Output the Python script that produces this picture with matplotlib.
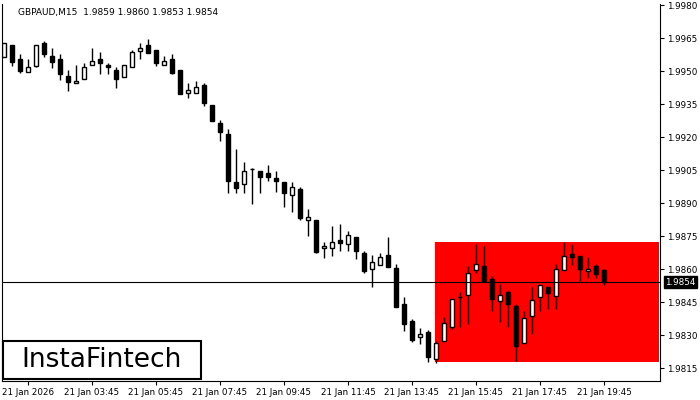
import matplotlib
matplotlib.use("Agg")
import matplotlib.pyplot as plt
import numpy as np
from matplotlib.patches import Rectangle

opens = [1.99564,1.99618,1.99555,1.99495,1.99523,1.99627,1.99568,1.99555,1.99477,1.99445,
         1.99464,1.99527,1.99555,1.99527,1.99505,1.99473,1.99518,1.99591,1.99618,1.99595,
         1.99527,1.99555,1.99505,1.99400,1.99400,1.99436,1.99345,1.99264,1.99214,1.98995,
         1.98986,1.99055,1.99045,1.99036,1.99014,1.98995,1.98936,1.98964,1.98823,1.98823,
         1.98695,1.98695,1.98732,1.98714,1.98745,1.98673,1.98600,1.98618,1.98664,1.98605,
         1.98441,1.98364,1.98291,1.98314,1.98191,1.98273,1.98336,1.98473,1.98482,1.98595,
         1.98614,1.98555,1.98455,1.98495,1.98432,1.98264,1.98386,1.98473,1.98518,1.98477,
         1.98595,1.98668,1.98659,1.98591,1.98614,1.98595]
highs = [1.99627,1.99618,1.99577,1.99555,1.99618,1.99636,1.99605,1.99577,1.99505,1.99527,
         1.99536,1.99605,1.99586,1.99536,1.99518,1.99527,1.99595,1.99627,1.99645,1.99595,
         1.99568,1.99577,1.99505,1.99445,1.99455,1.99445,1.99345,1.99277,1.99236,1.99145,
         1.99086,1.99060,1.99045,1.99073,1.99045,1.98995,1.98995,1.98973,1.98873,1.98823,
         1.98723,1.98795,1.98805,1.98773,1.98745,1.98682,1.98664,1.98673,1.98745,1.98623,
         1.98473,1.98373,1.98332,1.98323,1.98273,1.98382,1.98464,1.98495,1.98614,1.98714,
         1.98705,1.98568,1.98532,1.98500,1.98441,1.98409,1.98518,1.98527,1.98518,1.98623,
         1.98723,1.98714,1.98659,1.98655,1.98623,1.98600]
lows = [1.99564,1.99523,1.99491,1.99495,1.99518,1.99564,1.99514,1.99459,1.99409,1.99445,
        1.99464,1.99527,1.99486,1.99486,1.99423,1.99473,1.99518,1.99555,1.99582,1.99523,
        1.99527,1.99486,1.99395,1.99377,1.99400,1.99341,1.99273,1.99182,1.98945,1.98945,
        1.98945,1.98895,1.98945,1.99000,1.98950,1.98882,1.98859,1.98823,1.98750,1.98673,
        1.98650,1.98659,1.98682,1.98682,1.98645,1.98582,1.98518,1.98618,1.98609,1.98427,
        1.98318,1.98268,1.98259,1.98177,1.98173,1.98273,1.98327,1.98336,1.98350,1.98582,
        1.98545,1.98409,1.98359,1.98336,1.98182,1.98264,1.98305,1.98409,1.98418,1.98418,
        1.98595,1.98618,1.98545,1.98559,1.98559,1.98527]
closes = [1.99627,1.99541,1.99500,1.99518,1.99618,1.99577,1.99541,1.99486,1.99450,1.99455,
          1.99518,1.99545,1.99536,1.99518,1.99464,1.99527,1.99586,1.99605,1.99582,1.99536,
          1.99545,1.99491,1.99395,1.99414,1.99427,1.99355,1.99273,1.99223,1.99000,1.98968,
          1.99045,1.99055,1.99018,1.99018,1.99000,1.98945,1.98973,1.98832,1.98836,1.98677,
          1.98705,1.98723,1.98718,1.98755,1.98682,1.98591,1.98632,1.98655,1.98609,1.98427,
          1.98350,1.98277,1.98305,1.98200,1.98264,1.98355,1.98464,1.98473,1.98582,1.98623,
          1.98545,1.98464,1.98482,1.98441,1.98250,1.98377,1.98459,1.98527,1.98491,1.98600,
          1.98659,1.98655,1.98600,1.98600,1.98577,1.98540]

time_labels = ["21 Jan 2026","21 Jan 03:45","21 Jan 05:45","21 Jan 07:45","21 Jan 09:45",
               "21 Jan 11:45","21 Jan 13:45","21 Jan 15:45","21 Jan 17:45","21 Jan 19:45"]
price_ticks = [1.9980,1.9965,1.9950,1.9935,1.9920,1.9905,1.9890,1.9875,1.9860,1.9845,1.9830,1.9815]
current_price = 1.9854
zone_start, zone_end = 53.9, 81.9
zone_high, zone_low = 1.98723, 1.98177
title = "GBPAUD,M15  1.9859 1.9860 1.9853 1.9854"

fig = plt.figure(figsize=(7, 4), dpi=100)
ax = fig.add_axes([2/700, 1-381/400, 658/700, 377/400])
x = np.arange(len(opens))

ax.add_patch(Rectangle((zone_start, zone_low), zone_end-zone_start, zone_high-zone_low,
                       facecolor="#ff0000", edgecolor="none", zorder=0))
ax.vlines(x, lows, highs, color="black", linewidth=1, zorder=2)
o = np.array(opens); c = np.array(closes)
bottoms = np.minimum(o, c); heights = np.maximum(np.abs(c - o), 0.00002)
colors = ["white" if cc >= oo else "black" for oo, cc in zip(o, c)]
ax.bar(x, heights, bottom=bottoms, width=0.62, color=colors, edgecolor="black",
       linewidth=1, zorder=3)
ax.axhline(current_price, color="black", linewidth=0.8, zorder=4)

ax.set_xlim(-0.25, 82.0)
ax.set_ylim(1.98091, 1.99805)
ax.yaxis.tick_right()
ax.set_yticks(price_ticks)
ax.set_yticklabels([f"{p:.4f}" for p in price_ticks], fontsize=6.3)
ax.set_xticks([3 + 8*k for k in range(len(time_labels))])
ax.set_xticklabels(time_labels, fontsize=6.3)
ax.tick_params(axis="both", length=3, width=0.8, pad=2)
ax.spines["top"].set_visible(False)
for s in ["left", "right", "bottom"]:
    ax.spines[s].set_linewidth(0.8)

ax.text(1.008, current_price, f"{current_price:.4f}", transform=ax.get_yaxis_transform(),
        fontsize=6.3, color="white", va="center", ha="left",
        bbox=dict(boxstyle="square,pad=0.2", facecolor="black", edgecolor="black"), zorder=5, clip_on=False)

fig.text(18/700, 1-12/400, title, fontsize=6.5, va="center", ha="left")

fig.patches.append(Rectangle((3/700, 1-379/400), 198/700, 38/400, transform=fig.transFigure,
                             facecolor="white", edgecolor="black", linewidth=1.5, zorder=10))
fig.text(102/700, 1-360/400, "InstaFintech", fontsize=19, ha="center", va="center", zorder=11)

fig.savefig("out.png", dpi=100)
